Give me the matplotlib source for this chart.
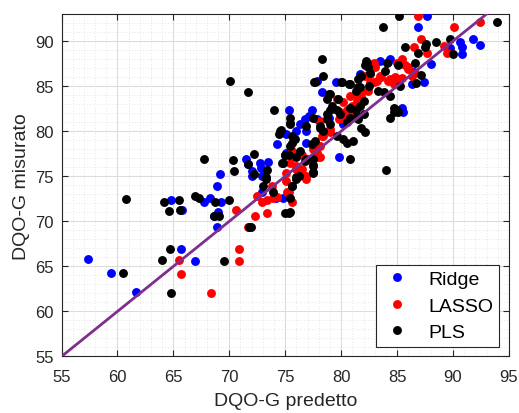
import matplotlib
matplotlib.use("Agg")
import matplotlib.pyplot as plt
from matplotlib.ticker import MultipleLocator

plt.rcParams['font.family'] = ['Liberation Sans', 'DejaVu Sans']

ridge_x = [57.4, 59.4, 61.7, 64.8, 65.8, 65.7, 66.9, 68.9, 68.9, 68.6, 69.0, 67.7, 68.3, 69.3, 72.9, 74.2,
           74.8, 69.2, 71.5, 71.7, 72.7, 72.8, 73.5, 72.0, 72.9, 72.0, 74.3, 75.1, 75.1, 75.4, 75.0, 75.3,
           77.4, 77.8, 76.8, 76.0, 77.1, 76.3, 76.9, 76.9, 78.9, 80.2, 79.8, 78.3, 79.5, 81.7, 77.8, 83.5,
           84.4, 86.9, 87.7, 88.0, 86.3, 87.4, 86.5, 85.5, 85.4, 89.7, 90.6, 90.8, 90.8, 91.8, 92.4, 84.2]
ridge_y = [65.8, 64.3, 62.2, 72.4, 71.3, 66.9, 65.6, 73.9, 69.4, 70.6, 71.0, 72.1, 72.6, 72.1, 73.2, 72.6,
           72.6, 75.2, 76.9, 76.4, 76.5, 75.9, 76.6, 75.0, 75.0, 75.6, 78.6, 79.7, 77.6, 77.3, 77.4, 82.3,
           82.4, 81.3, 81.3, 80.0, 81.7, 80.8, 80.0, 78.7, 81.5, 80.8, 77.1, 84.3, 85.5, 86.3, 85.6, 87.8,
           88.0, 91.6, 92.8, 87.4, 85.2, 85.5, 86.6, 82.1, 82.6, 89.2, 89.9, 89.3, 88.6, 90.2, 89.6, 87.7]

lasso_x = [65.5, 65.7, 68.4, 70.9, 70.9, 71.7, 70.6, 72.3, 73.4, 72.5, 72.9, 73.4, 73.9, 73.8, 74.3, 75.2,
           75.6, 75.1, 76.9, 75.3, 76.0, 76.5, 76.9, 75.1, 76.0, 75.4, 76.5, 75.6, 77.8, 77.2, 78.1, 77.8,
           77.5, 78.1, 78.3, 78.4, 79.0, 79.0, 78.1, 79.8, 80.2, 79.9, 80.5, 80.5, 81.0, 81.0, 81.4, 81.4,
           81.8, 81.8, 79.6, 80.2, 80.8, 82.4, 82.9, 82.6, 83.2, 83.5, 83.6, 82.1, 82.6, 84.2, 84.7, 84.4,
           84.8, 84.7, 85.1, 85.4, 83.0, 82.9, 85.0, 85.4, 85.1, 85.7, 86.0, 86.0, 86.6, 86.3, 87.1, 86.5,
           87.7, 89.2, 89.5, 86.9, 90.1, 92.4]
lasso_y = [65.7, 64.1, 62.0, 66.9, 65.6, 69.4, 71.3, 70.6, 70.9, 72.8, 72.1, 72.4, 72.6, 73.9, 72.7, 73.2,
           72.1, 74.5, 74.7, 73.2, 75.8, 75.8, 75.0, 75.4, 76.1, 76.5, 77.4, 77.8, 77.6, 76.9, 77.1, 77.1,
           78.0, 78.4, 79.5, 79.5, 79.9, 80.2, 81.1, 81.3, 81.5, 82.1, 82.1, 82.4, 82.8, 82.4, 83.4, 83.9,
           83.9, 84.3, 83.6, 83.2, 83.9, 84.5, 85.4, 85.4, 85.6, 86.1, 86.0, 86.1, 86.3, 85.6, 85.2, 85.8,
           86.0, 85.6, 85.8, 85.9, 87.1, 87.6, 87.6, 88.0, 87.4, 87.3, 86.9, 87.1, 86.5, 86.1, 90.2, 89.3,
           88.7, 89.5, 88.7, 92.8, 91.6, 92.1]

pls_x = [60.5, 60.8, 64.2, 65.5, 64.6, 65.6, 64.7, 64.0, 64.8, 69.5, 71.9, 69.1, 68.6, 66.9, 67.3, 68.7,
         70.0, 73.0, 73.9, 73.3, 75.0, 70.1, 71.7, 74.0, 74.6, 74.4, 67.7, 70.3, 70.4, 72.2, 71.7, 72.2,
         73.4, 73.3, 74.7, 75.0, 75.4, 75.6, 75.3, 75.4, 75.6, 75.4, 76.0, 76.2, 77.5, 77.5, 77.5, 78.3,
         82.3, 84.1, 82.1, 82.6, 78.4, 77.7, 80.1, 80.8, 81.5, 81.3, 81.7, 83.3, 83.8, 84.4, 79.0, 78.7,
         79.2, 79.6, 79.0, 78.7, 81.7, 82.0, 81.5, 80.5, 80.8, 81.1, 80.2, 79.6, 77.5, 76.9, 78.1, 78.4,
         78.7, 79.0, 75.6, 75.9, 75.4, 77.4, 77.7, 76.3, 76.0, 76.9, 80.8, 84.0, 84.7, 85.0, 84.4, 85.1,
         84.7, 85.2, 83.7, 93.9, 85.7, 87.6, 87.5, 86.9, 88.5, 89.7, 90.0, 85.1, 86.6, 87.1, 86.7, 85.3,
         82.1, 80.5, 75.4, 75.4, 74.5, 74.8, 76.8, 77.5, 77.5, 76.0, 75.6, 77.6, 80.0, 80.7, 81.8, 82.5,
         81.5, 78.9, 79.7, 79.9, 80.8, 81.3, 81.4, 81.8, 78.1, 82.0, 82.2, 82.4, 83.9, 75.3, 71.8]
pls_y = [64.3, 72.5, 72.1, 72.4, 71.1, 71.3, 66.9, 65.7, 62.0, 65.6, 69.4, 70.6, 70.6, 72.8, 72.6, 72.1,
         72.4, 73.9, 73.2, 74.7, 70.9, 85.6, 84.4, 82.3, 80.1, 79.7, 76.9, 76.8, 75.6, 77.5, 76.4, 75.2,
         75.7, 74.9, 76.5, 77.4, 80.9, 78.7, 77.4, 72.6, 73.9, 71.0, 74.7, 75.0, 75.5, 76.3, 76.9, 88.0,
         87.6, 87.6, 87.3, 86.5, 86.1, 85.4, 85.5, 85.2, 85.8, 84.5, 84.9, 84.5, 84.3, 83.9, 84.1, 83.6,
         82.8, 82.4, 82.3, 81.9, 82.8, 81.9, 81.3, 81.0, 81.5, 78.9, 79.1, 79.5, 81.5, 80.6, 80.6, 80.0,
         81.3, 80.8, 79.5, 79.1, 78.4, 78.6, 78.9, 77.8, 77.1, 76.9, 76.9, 75.7, 82.6, 82.3, 81.5, 82.1,
         82.1, 92.8, 91.6, 92.1, 89.3, 89.7, 89.3, 88.7, 89.9, 90.2, 88.6, 87.3, 87.6, 86.2, 85.3, 85.0,
         79.9, 78.7, 81.5, 80.8, 80.0, 76.5, 76.7, 76.1, 75.4, 74.9, 73.9, 85.5, 85.5, 85.2, 86.1, 85.0,
         84.9, 84.1, 83.6, 81.9, 82.6, 82.4, 81.7, 80.4, 80.4, 83.4, 87.8, 87.1, 86.7, 70.9, 69.4]

x_ticks = [55, 60, 65, 70, 75, 80, 85, 90, 95]
y_ticks = [55, 60, 65, 70, 75, 80, 85, 90]
line_ends = [55, 93]

fig = plt.figure(figsize=(5.19, 4.14), dpi=100)
ax = fig.add_axes([0.1185, 0.1365, 0.8622, 0.8273])

ms = 6.4
ax.plot(ridge_x, ridge_y, 'o', color='#0000ff', ms=ms, mew=0, label='Ridge', zorder=3)
ax.plot(lasso_x, lasso_y, 'o', color='#ff0000', ms=ms, mew=0, label='LASSO', zorder=4)
ax.plot(pls_x, pls_y, 'o', color='#000000', ms=ms, mew=0, label='PLS', zorder=5)
ax.plot(line_ends, line_ends, '-', color='#7E2F8E', lw=2, zorder=6)

ax.set_xlim(55, 95)
ax.set_ylim(55, 93)
ax.set_xticks(x_ticks)
ax.set_yticks(y_ticks)
ax.xaxis.set_minor_locator(MultipleLocator(1))
ax.yaxis.set_minor_locator(MultipleLocator(1))
ax.grid(True, which='major', color='#dcdcdc', lw=0.8, zorder=0)
ax.grid(True, which='minor', color='#cfcfcf', lw=0.5, ls=(0, (1, 3)), zorder=0)
ax.set_axisbelow(True)
ax.tick_params(which='both', direction='in', top=True, right=True, colors='#262626', labelsize=12)
ax.tick_params(which='major', length=4, width=0.8)
ax.tick_params(axis='x', which='major', pad=9)
ax.tick_params(axis='y', which='major', pad=5.5)
ax.tick_params(which='minor', length=0)
for s in ax.spines.values():
    s.set_color('#262626')
    s.set_linewidth(0.8)

ax.set_xlabel('DQO-G predetto', fontsize=14, color='#262626', labelpad=6)
ax.set_ylabel('DQO-G misurato', fontsize=14, color='#262626', labelpad=4)

leg = ax.legend(loc='lower right', fontsize=14, frameon=True, fancybox=False,
                edgecolor='#262626', framealpha=1, borderaxespad=0.5,
                handletextpad=0.8, labelspacing=0.45, markerscale=1.0,
                borderpad=0.3, handlelength=1.6)
leg.get_frame().set_linewidth(0.8)

fig.savefig('out.png', dpi=100)
